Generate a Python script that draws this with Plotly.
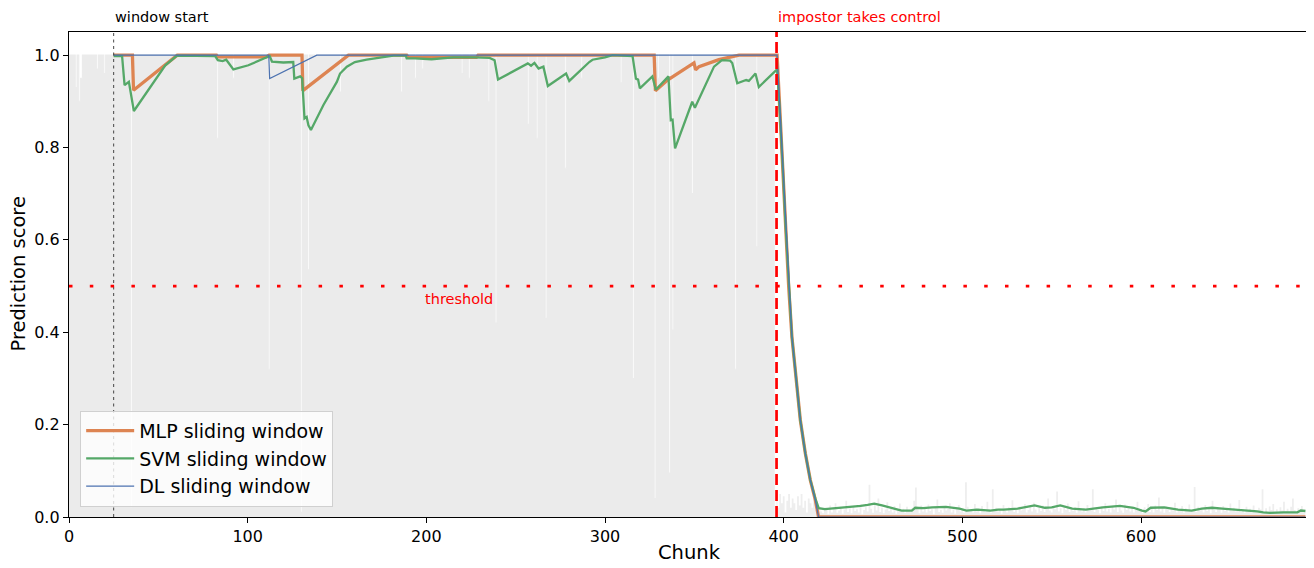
import plotly.graph_objects as go

# ---------------- data ----------------
window_start = 25
impostor_chunk = 396
threshold = 0.5

# raw per-chunk prediction scores (grey bars), chunks 0..395 (genuine user)
raw_before = [
    1, 1, 1, 1, .93, 1, .90, .95, 1, 1, 1, 1, 1, 1, 1, 1, .97, 1, 1, 1,
    .96, 1, 1, 1, 1, 1, 1, 1, 1, 1, 1, 1, 1, 1, 1, .02, 1, 1, 1, 1,
    1, 1, 1, 1, 1, 1, 1, 1, 1, 1, 1, 1, 1, 1, 1, 1, 1, 1, 1, 1,
    1, 1, 1, 1, 1, 1, 1, 1, 1, 1, 1, 1, 1, 1, 1, 1, 1, 1, 1, 1,
    1, 1, 1, .82, 1, 1, 1, 1, 1, 1, 1, 1, .95, 1, 1, 1, 1, 1, 1, 1,
    1, 1, 1, 1, 1, 1, 1, 1, 1, 1, 1, 1, .32, 1, 1, 1, 1, 1, 1, 1,
    1, 1, 1, 1, 1, 1, 1, 1, 1, 1, .01, 1, 1, 1, .535, 1, 1, 1, 1, 1,
    1, 1, 1, 1, 1, 1, 1, 1, 1, 1, 1, 1, .92, 1, 1, 1, 1, 1, 1, 1,
    1, 1, 1, 1, 1, 1, 1, 1, 1, 1, 1, 1, 1, 1, 1, 1, 1, 1, 1, 1,
    1, 1, 1, 1, 1, 1, .92, 1, 1, 1, 1, 1, 1, 1, .95, 1, 1, 1, .97, 1,
    1, 1, 1, 1, 1, 1, 1, 1, 1, 1, 1, 1, 1, 1, 1, 1, 1, 1, 1, 1,
    .96, 1, 1, 1, .95, 1, 1, 1, 1, 1, 1, 1, 1, 1, 1, .90, 1, 1, 1, .42,
    1, 1, 1, 1, 1, 1, 1, 1, 1, 1, 1, 1, 1, 1, 1, 1, 1, .85, 1, 1,
    1, 1, .82, 1, 1, 1, 1, .43, 1, 1, 1, 1, 1, 1, 1, 1, 1, 1, .755, 1,
    1, 1, 1, 1, 1, 1, 1, .95, 1, 1, 1, 1, 1, 1, 1, 1, 1, 1, 1, 1,
    1, 1, 1, 1, 1, 1, 1, 1, 1, .94, 1, 1, 1, 1, 1, 1, .30, 1, 1, 1,
    1, 1, 1, 1, 1, 1, 1, 1, .04, 1, .95, 1, 1, 1, 1, 1, .095, 1, .405, 1,
    1, 1, 1, 1, 1, 1, 1, 1, 1, .70, 1, 1, 1, 1, 1, 1, 1, 1, 1, 1,
    1, 1, 1, 1, 1, 1, 1, 1, 1, 1, 1, 1, 1, .32, 1, 1, 1, 1, 1, 1,
    1, 1, 1, 1, 1, .585, 1, 1, 1, 1, 1, 1, 1, 1, 1, 1,
]

# raw per-chunk prediction scores, chunks 396..692 (impostor)
raw_after = [
    .04, .02, .05, .03, .045, .01, .035, .05, .02, .04, .03, .015, .045, .025, .05, .02, .035, .01, .04, .03,
    .02, .045, .015, .03, .02,
    .012, .008, .02, .015, .006, .025, .01, .018, .03, .009, .014, .022, .007, .016, .035, .011, .019, .008, .024, .013,
    .017, .01, .028, .006, .015, .021, .012, .07, .018, .009, .026, .014, .04, .011, .02, .008, .016, .032, .013, .019,
    .01, .024, .007, .015, .029, .012, .018, .009, .022, .014, .011, .02, .035, .064, .016, .008, .025, .012, .019, .01,
    .027, .013, .017, .006, .021, .038, .011, .015, .009, .023, .014, .018, .03, .01, .016, .007, .02, .026, .012, .017,
    .009, .075, .022, .013, .016, .01, .028, .012, .019, .008, .024, .015, .011, .033, .017, .009, .06, .014, .02, .012,
    .018, .007, .026, .013, .01, .021, .016, .036, .011, .019, .008, .023, .014, .017, .028, .01, .015, .022, .012, .031,
    .016, .009, .02, .013, .025, .011, .018, .04, .014, .01, .022, .017, .055, .012, .019, .008, .024, .015, .029, .011,
    .017, .013, .021, .009, .034, .016, .012, .019, .01, .026, .014, .018, .06, .011, .02, .015, .008, .023, .013, .03,
    .012, .018, .01, .024, .016, .038, .011, .02, .014, .009, .027, .015, .019, .012, .022, .01, .017, .033, .013, .016,
    .008, .021, .014, .028, .011, .018, .01, .025, .015, .042, .012, .019, .009, .023, .016, .011, .02, .014, .031, .01,
    .017, .013, .024, .009, .019, .015, .027, .012, .016, .065, .011, .022, .014, .018, .01, .026, .013, .02, .008, .035,
    .015, .011, .021, .016, .009, .024, .013, .018, .01, .029, .014, .02, .012, .017, .037, .011, .016, .009, .022, .013,
    .018, .01, .025, .014, .012, .02, .016, .06, .011, .019, .008, .023, .015, .028, .012, .017, .01, .021, .014, .033,
    .012, .018, .009, .022, .04, .015, .011, .019, .013, .024, .01, .016,
]

# sliding-window scores (vertices)
mlp_x = [25, 35.5, 36.1, 60.6, 82.5, 83.2, 110.5, 112, 130.4, 130.9, 156.4, 189, 190, 228, 229,
         327.5, 328.2, 335, 349.8, 350.7, 352.6, 363.7, 375, 396.3,
         397.2, 398.1, 399.6, 400.9, 402.8, 404.6, 406.5, 409.3, 412.1, 414.9, 417.7, 419.5, 692]
mlp_y = [1.0, 1.0, 0.924, 1.0, 1.0, 0.996, 0.996, 1.0, 1.0, 0.923, 1.0, 1.0, 0.995, 0.995, 1.0,
         1.0, 0.923, 0.946, 0.983, 0.968, 0.975, 0.99, 1.0, 1.0,
         0.931, 0.859, 0.751, 0.643, 0.498, 0.39, 0.318, 0.21, 0.138, 0.08, 0.037, 0.0, 0.0]

svm_x = [25, 29.7, 31.1, 33.5, 36.3, 53.9, 60.4, 81.8, 83.3, 86, 88, 92, 100.4, 112.3, 113.6, 120,
         125.5, 126.1, 129.4, 130.5, 131.8, 133, 134, 135.4, 142.4, 146.2, 149.9, 151.7, 155.5, 160,
         166.6, 181.5, 188.5, 189, 193.6, 202.9, 215, 226.9, 235.4, 238.2, 240.1, 256.8, 258.6, 260.5,
         262.8, 265.5, 268, 278.2, 280, 291.2, 293, 300, 304.2, 315.4, 317.3, 318.5, 319.5, 326.5,
         328.4, 335.5, 336.8, 337.8, 339.2, 348.8, 350.3, 361, 365.4, 370, 371.2, 374, 379, 380.5,
         384.2, 386.1, 396.3,
         397.5, 398.3, 399.6, 400.9, 402.8, 404.6, 406.5, 409.3, 412.1, 414.9, 417.7, 419.6,
         423, 425.9, 430, 435.4, 440, 443.1, 447, 450.7, 455, 460.2, 466, 471.7, 473.6, 478, 483.1,
         490.8, 495, 498.4, 502.3, 508, 512, 515.6, 520, 523.2, 530.9, 536, 540.4, 546.2, 550, 554.8,
         561.5, 569.1, 574, 578.6, 588.2, 595.8, 600.5, 602.5, 605.4, 613, 620.7, 628.3, 634, 639.7,
         645.5, 653.1, 660.7, 665, 668.4, 672.2, 679.8, 687.5, 689.4, 692]
svm_y = [0.998, 0.998, 0.935, 0.942, 0.879, 0.978, 0.999, 0.998, 0.989, 0.987, 0.99, 0.969, 0.978, 0.998, 0.986, 0.984,
         0.985, 0.949, 0.954, 0.95, 0.863, 0.866, 0.848, 0.838, 0.892, 0.917, 0.942, 0.96, 0.975, 0.985,
         0.99, 0.999, 0.999, 0.993, 0.993, 0.991, 0.995, 0.995, 0.994, 0.989, 0.947, 0.982, 0.977, 0.983,
         0.971, 0.975, 0.933, 0.96, 0.944, 0.985, 0.99, 0.995, 1.0, 0.998, 0.949, 0.947, 0.928, 0.954,
         0.925, 0.954, 0.859, 0.86, 0.798, 0.899, 0.886, 0.975, 0.989, 0.988, 0.983, 0.939, 0.946, 0.944,
         0.96, 0.931, 0.969,
         0.90, 0.85, 0.751, 0.643, 0.498, 0.39, 0.318, 0.21, 0.138, 0.08, 0.04, 0.019,
         0.017, 0.018, 0.019, 0.020, 0.022, 0.024, 0.026, 0.029, 0.025, 0.020, 0.014, 0.014, 0.020, 0.019, 0.021,
         0.022, 0.020, 0.018, 0.014, 0.016, 0.015, 0.014, 0.016, 0.016, 0.018, 0.022, 0.025, 0.020, 0.021, 0.025,
         0.018, 0.016, 0.019, 0.021, 0.024, 0.020, 0.014, 0.012, 0.020, 0.021, 0.016, 0.014, 0.018, 0.020,
         0.018, 0.016, 0.014, 0.012, 0.010, 0.009, 0.010, 0.010, 0.014, 0.013]

dl_x = [25, 111.8, 112.3, 138.7, 396.3,
        397.2, 398.1, 399.6, 400.9, 402.8, 404.6, 406.5, 409.3, 412.1, 414.9, 417.7, 419.5, 692]
dl_y = [1.0, 1.0, 0.949, 1.0, 1.0,
        0.931, 0.859, 0.751, 0.643, 0.498, 0.39, 0.318, 0.21, 0.138, 0.08, 0.037, 0.0, 0.0]

x_ticks = [0, 100, 200, 300, 400, 500, 600]
y_ticks = [0.0, 0.2, 0.4, 0.6, 0.8, 1.0]

# ---------------- figure ----------------
chunks_before = list(range(len(raw_before)))
chunks_after = list(range(len(raw_before), len(raw_before) + len(raw_after)))

FONT = "DejaVu Sans"
ORANGE = "#dd8452"
GREEN = "#55a868"
BLUE = "#4c72b0"
GREY = "#ebebeb"

fig = go.Figure()
fig.add_trace(go.Scatter(
    x=chunks_before, y=raw_before, mode="lines",
    line=dict(width=1.1, color=GREY, shape="hvh"),
    fill="tozeroy", fillcolor=GREY, showlegend=False, hoverinfo="skip"))
fig.add_trace(go.Scatter(
    x=chunks_after, y=raw_after, mode="lines",
    line=dict(width=0, color=GREY, shape="hvh"),
    fill="tozeroy", fillcolor="#eeeeee", showlegend=False, hoverinfo="skip"))

fig.add_trace(go.Scatter(x=mlp_x, y=mlp_y, mode="lines", name="MLP sliding window",
                         line=dict(color=ORANGE, width=3.3)))
fig.add_trace(go.Scatter(x=svm_x, y=svm_y, mode="lines", name="SVM sliding window",
                         line=dict(color=GREEN, width=2.3)))
fig.add_trace(go.Scatter(x=dl_x, y=dl_y, mode="lines", name="DL sliding window",
                         line=dict(color=BLUE, width=1.2)))

# reference lines
fig.add_shape(type="line", xref="x", yref="paper", x0=window_start, x1=window_start, y0=0, y1=1,
              line=dict(color="rgba(40,40,40,0.85)", width=1, dash="3px,3.5px"))
fig.add_shape(type="line", xref="paper", yref="y", x0=0, x1=1, y0=threshold, y1=threshold,
              line=dict(color="#ff0000", width=2.7, dash="3.5px,17.3px"))
fig.add_shape(type="line", xref="x", yref="paper", x0=impostor_chunk, x1=impostor_chunk, y0=0, y1=1,
              line=dict(color="#ff0000", width=2.7, dash="11px,5px"))

fig.add_annotation(x=window_start, xref="x", y=1.031, yref="paper", text="window start",
                   showarrow=False, xanchor="left", yanchor="middle", xshift=-1,
                   font=dict(family=FONT, size=14.5, color="black"))
fig.add_annotation(x=impostor_chunk, xref="x", y=1.031, yref="paper", text="impostor takes control",
                   showarrow=False, xanchor="left", yanchor="middle", xshift=-1,
                   font=dict(family=FONT, size=14.5, color="#ff0000"))
fig.add_annotation(x=198.5, xref="x", y=0.472, yref="y", text="threshold",
                   showarrow=False, xanchor="left", yanchor="middle", xshift=-1,
                   font=dict(family=FONT, size=14.5, color="#ff0000"))

# axis titles
fig.add_annotation(x=0.5, xref="paper", y=-0.0742, yref="paper", text="Chunk",
                   showarrow=False, xanchor="center", yanchor="middle",
                   font=dict(family=FONT, size=19.5, color="black"))
fig.add_annotation(x=-0.0411, xref="paper", y=0.5, yref="paper", text="Prediction score",
                   showarrow=False, xanchor="center", yanchor="middle", textangle=-90,
                   font=dict(family=FONT, size=19.5, color="black"))

axis_common = dict(showline=True, mirror=True, linecolor="black", linewidth=1.3,
                   ticks="outside", ticklen=5, tickwidth=1.3, tickcolor="black",
                   showgrid=False, zeroline=False, automargin=False,
                   tickfont=dict(family=FONT, size=16, color="black"))

# the page body has an 8px default margin, so the figure is sized to fit the window
fig.update_layout(
    width=1306, height=560,
    margin=dict(l=61, r=5, t=24, b=51),
    plot_bgcolor="white", paper_bgcolor="white",
    font=dict(family=FONT, color="black"),
    xaxis=dict(range=[0, 694], tickvals=x_ticks, **axis_common),
    yaxis=dict(range=[0, 1.05], tickvals=y_ticks, tickformat=".1f", **axis_common),
    legend=dict(x=0.009, y=0.021, xanchor="left", yanchor="bottom",
                bgcolor="rgba(255,255,255,0.8)", bordercolor="#d0d0d0", borderwidth=1,
                font=dict(family=FONT, size=19, color="black"),
                itemwidth=48, tracegroupgap=0),
    showlegend=True,
)

fig.write_html("out.html")
